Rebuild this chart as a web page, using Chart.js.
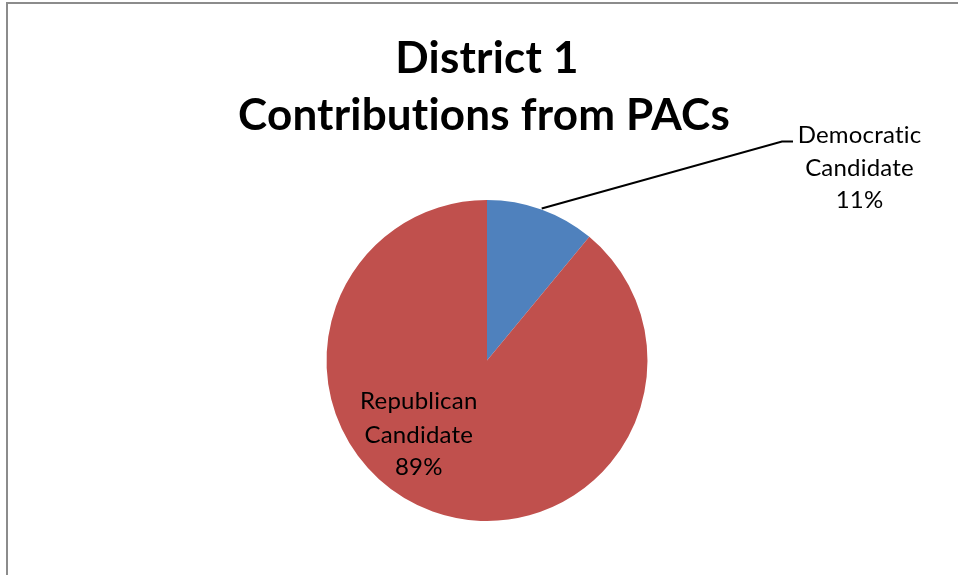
<!DOCTYPE html>
<html>
<head>
<meta charset="utf-8">
<script src="https://cdn.jsdelivr.net/npm/chart.js@4/dist/chart.umd.min.js"></script>
<style>
html,body{margin:0;padding:0;background:#fff;}
#wrap{width:958px;height:575px;position:relative;}
</style>
</head>
<body>
<div id="wrap"><canvas id="c" width="958" height="575"></canvas></div>
<script>
// ---- data ----
const titleLines = ["District 1", "Contributions from PACs"];
const categories = ["Democratic Candidate", "Republican Candidate"];
const labelLines = [["Democratic", "Candidate"], ["Republican", "Candidate"]];
const percentages = [11, 89];
const colors = ["#4F81BD", "#C0504D"];

const FONT = "Lato, 'Open Sans', 'Liberation Sans', sans-serif";

const decor = {
  id: 'decor',
  afterDraw(chart) {
    const ctx = chart.ctx;
    const meta = chart.getDatasetMeta(0);
    const a0 = meta.data[0];
    const cx = a0.x, cy = a0.y, r = a0.outerRadius;
    ctx.save();
    try { ctx.textRendering = 'optimizeSpeed'; } catch (e) {}
    try { ctx.letterSpacing = '0.2px'; } catch (e) {}
    // frame
    ctx.strokeStyle = '#8c8c8c';
    ctx.lineWidth = 2;
    ctx.beginPath();
    ctx.moveTo(7, 575);
    ctx.lineTo(7, 3);
    ctx.lineTo(958, 3);
    ctx.stroke();

    // title
    ctx.fillStyle = '#000';
    ctx.textAlign = 'center';
    ctx.textBaseline = 'alphabetic';
    ctx.font = "bold 44px " + FONT;
    ctx.fillText(titleLines[0], 487, 73);
    ctx.fillText(titleLines[1], 484, 130);

    // labels
    ctx.font = "24px " + FONT;
    // Democratic (outside with leader line)
    const mid0 = (a0.startAngle + a0.endAngle) / 2;
    const sx = cx + Math.cos(mid0) * (r + 1);
    const sy = cy + Math.sin(mid0) * (r + 1);
    const ex = cx + 1.838 * r, ey = cy - 1.365 * r;
    ctx.strokeStyle = '#000';
    ctx.lineWidth = 2;
    ctx.beginPath();
    ctx.moveTo(sx, sy);
    ctx.lineTo(ex, ey);
    ctx.lineTo(ex + 11, ey);
    ctx.stroke();
    const dx = cx + 2.321 * r;
    const dy0 = cy - 1.353 * r;
    ctx.fillText(labelLines[0][0], dx, dy0);
    ctx.fillText(labelLines[0][1], dx, dy0 + 33);
    ctx.fillText(percentages[0] + '%', dx, dy0 + 65);

    // Republican (inside)
    const rx = cx - 0.425 * r;
    const ry0 = cy + 0.30 * r;
    ctx.fillText(labelLines[1][0], rx, ry0);
    ctx.fillText(labelLines[1][1], rx, ry0 + 34);
    ctx.fillText(percentages[1] + '%', rx, ry0 + 66);
    ctx.restore();
  }
};

new Chart(document.getElementById('c'), {
  type: 'pie',
  data: {
    labels: categories,
    datasets: [{
      data: percentages,
      backgroundColor: colors,
      borderWidth: 0
    }]
  },
  options: {
    responsive: false,
    animation: false,
    layout: { padding: { top: 200, bottom: 54, left: 100, right: 84 } },
    plugins: {
      legend: { display: false },
      tooltip: { enabled: false },
      title: { display: false }
    }
  },
  plugins: [decor]
});
</script>
</body>
</html>
